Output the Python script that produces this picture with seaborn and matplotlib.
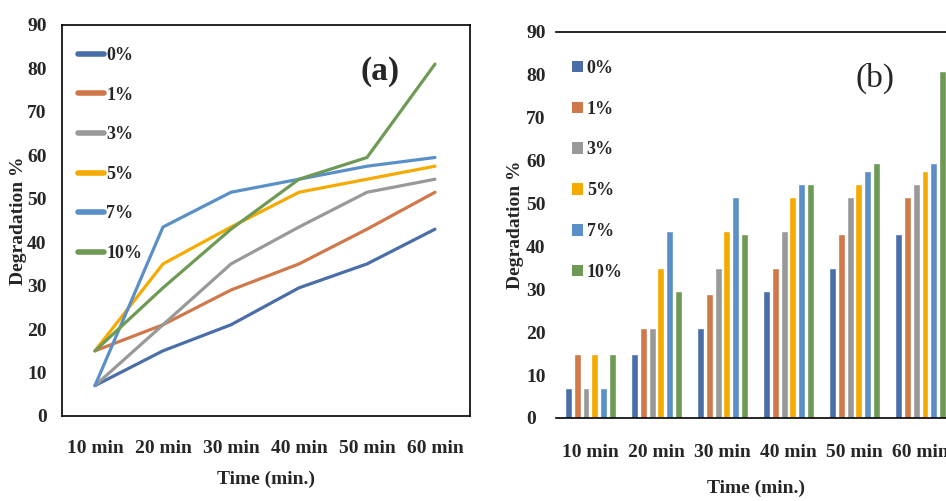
import numpy as np
import pandas as pd
import matplotlib
matplotlib.use("Agg")
import matplotlib.pyplot as plt
import seaborn as sns
from matplotlib.patches import Patch
from matplotlib.lines import Line2D

# ---- data ----
times = ["10 min", "20 min", "30 min", "40 min", "50 min", "60 min"]
concs = ["0%", "1%", "3%", "5%", "7%", "10%"]
deg_0 = [7, 15, 21, 29.5, 35, 43]
deg_1 = [15, 21, 29, 35, 43, 51.5]
deg_3 = [7, 21, 35, 43.5, 51.5, 54.5]
deg_5 = [15, 35, 43.5, 51.5, 54.5, 57.5]
deg_7 = [7, 43.5, 51.5, 54.5, 57.5, 59.5]
deg_10 = [15, 29.5, 43, 54.5, 59.5, 81]
colors = ["#4a6ea8", "#d0784a", "#999999", "#f5aa00", "#5b8fc8", "#6e9a55"]

series = [deg_0, deg_1, deg_3, deg_5, deg_7, deg_10]
rows = []
for c, vals in zip(concs, series):
    for t, v in zip(times, vals):
        rows.append({"time": t, "conc": c, "value": v})
df = pd.DataFrame(rows)

sns.set_theme(style="white")
plt.rcParams["font.family"] = ["Liberation Serif", "DejaVu Serif"]
plt.rcParams["font.weight"] = "bold"

fig = plt.figure(figsize=(9.46, 5.01), dpi=100)
palette = dict(zip(concs, colors))

# ---- panel (a) ----
ax1 = fig.add_axes([62/946, 85/501, 408/946, 391/501])
sns.lineplot(data=df, x="time", y="value", hue="conc", palette=palette,
             sort=False, linewidth=2.3, ax=ax1, legend=False)
ax1.set_xlim(-0.485, 5.515)
ax1.set_ylim(0, 90)
ax1.set_yticks(range(0, 91, 10))
for s in ax1.spines.values():
    s.set_visible(True)
    s.set_color("black")
    s.set_linewidth(1.2)
ax1.tick_params(axis="y", length=0, pad=11, labelsize=14)
ax1.tick_params(axis="x", length=0, pad=17, labelsize=14)
ax1.set_xlabel("Time (min.)", fontsize=14, fontweight="bold")
ax1.set_ylabel("Degradation %", fontsize=14, fontweight="bold")
ax1.yaxis.set_label_coords(-0.085, 0.5)
ax1.xaxis.set_label_coords(0.5, -0.14)
handles1 = [Line2D([0], [0], color=c, lw=4) for c in colors]
ax1.legend(handles1, concs, loc="upper left", bbox_to_anchor=(0.0, 0.985),
           frameon=False, fontsize=13, handlelength=1.4, handletextpad=0.15,
           labelspacing=1.25, borderaxespad=0.5)
ax1.text(0.78, 0.88, "(a)", transform=ax1.transAxes, fontsize=24,
         fontweight="bold", ha="center", va="center")

# ---- panel (b) ----
ax2 = fig.add_axes([556/946, 83/501, 399/946, 386/501])
sns.barplot(data=df, x="time", y="value", hue="conc", palette=palette,
            width=0.79, gap=0.2, ax=ax2, legend=False, saturation=1)
ax2.set_xlim(-0.52, 5.52)
ax2.set_ylim(0, 90)
ax2.set_yticks(range(0, 91, 10))
ax2.spines["left"].set_visible(False)
ax2.spines["right"].set_visible(False)
ax2.spines["top"].set_visible(True)
ax2.spines["bottom"].set_visible(True)
for k in ("top", "bottom"):
    ax2.spines[k].set_color("black")
    ax2.spines[k].set_linewidth(1.2)
ax2.tick_params(axis="y", length=0, pad=21.5, labelsize=14)
for lab in ax2.get_yticklabels():
    lab.set_horizontalalignment("left")
ax2.tick_params(axis="x", length=0, pad=19, labelsize=14)
ax2.set_xlabel("Time (min.)", fontsize=14, fontweight="bold")
ax2.set_ylabel("Degradation %", fontsize=14, fontweight="bold")
ax2.yaxis.set_label_coords(-0.08, 0.5)
ax2.xaxis.set_label_coords(0.5, -0.16)
handles2 = [Patch(facecolor=c, edgecolor="none") for c in colors]
ax2.legend(handles2, concs, loc="upper left", bbox_to_anchor=(0.0, 0.97),
           frameon=False, fontsize=13, handlelength=0.6, handleheight=0.6,
           handletextpad=0.2, labelspacing=1.32, borderaxespad=0.5)
ax2.text(0.8, 0.88, "(b)", transform=ax2.transAxes, fontsize=24,
         fontweight="normal", ha="center", va="center")

fig.savefig("out.png", dpi=100)
